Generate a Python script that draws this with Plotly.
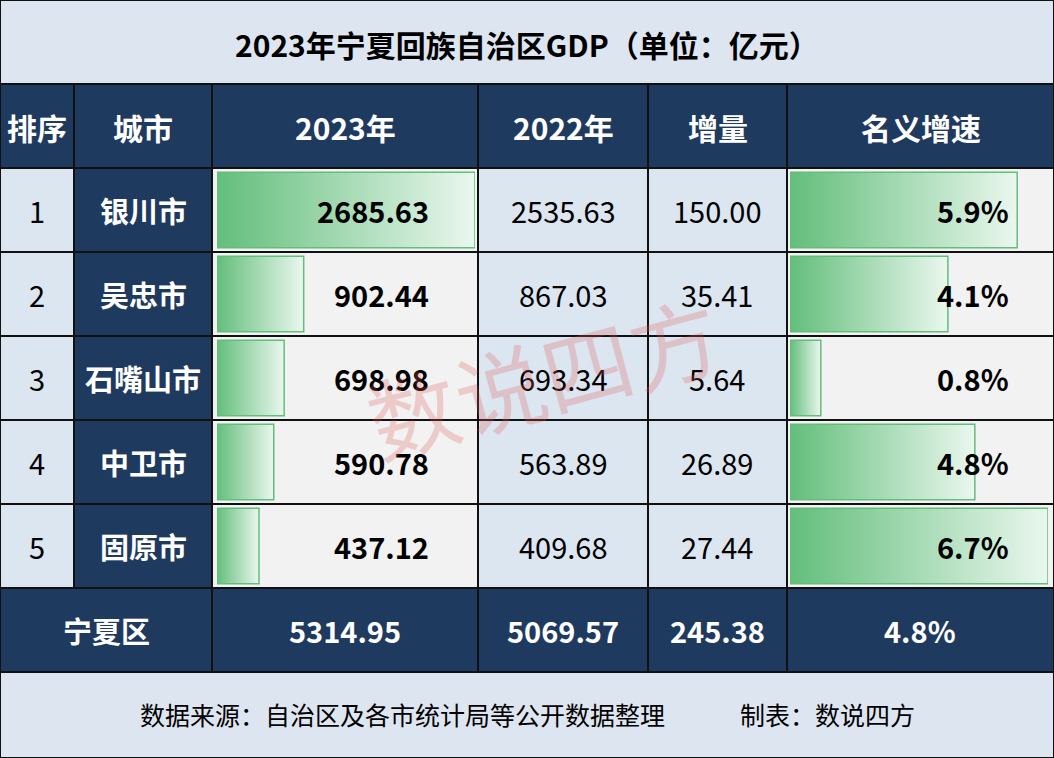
import plotly.graph_objects as go

# ---- data ----
title = "2023年宁夏回族自治区GDP（单位：亿元）"
headers = ["排序", "城市", "2023年", "2022年", "增量", "名义增速"]
ranks = ["1", "2", "3", "4", "5"]
cities = ["银川市", "吴忠市", "石嘴山市", "中卫市", "固原市"]
gdp_2023 = [2685.63, 902.44, 698.98, 590.78, 437.12]
gdp_2022 = [2535.63, 867.03, 693.34, 563.89, 409.68]
increase = [150.00, 35.41, 5.64, 26.89, 27.44]
growth = [5.9, 4.1, 0.8, 4.8, 6.7]
total_label = "宁夏区"
total_2023 = 5314.95
total_2022 = 5069.57
total_increase = 245.38
total_growth = 4.8
footer = "数据来源：自治区及各市统计局等公开数据整理　　　制表：数说四方"
watermark = "数说四方"

# ---- layout constants (pixels) ----
W, H = 1054, 758
col_x = [0, 74, 212, 478, 648, 787, 1054]
title_y = (0, 84)
head_y = (84, 168)
row_h = 84
rows_top = 168
total_y = (588, 672)
foot_y = (672, 758)

NAVY = "#1f3a5f"
LIGHT = "#dde6f0"
PALE = "#f2f2f2"
BLUE = "#dce6f1"
GREEN = "#63be7b"
FONT = "Noto Sans CJK SC"


def px(x):
    return x / W


def py(y):
    return 1 - y / H


shapes = []
annotations = []


def cell(x0, x1, y0, y1, fill):
    shapes.append(dict(type="rect", xref="paper", yref="paper",
                       x0=px(x0), x1=px(x1), y0=py(y1), y1=py(y0),
                       fillcolor=fill, line=dict(color="#111111", width=2),
                       layer="below"))


def text(s, x, y, size=29, color="black", bold=False, xanchor="center"):
    if bold:
        s = "<b>" + s + "</b>"
    annotations.append(dict(text=s, x=px(x), y=py(y), xref="paper", yref="paper",
                            xanchor=xanchor, yanchor="middle", showarrow=False,
                            font=dict(family=FONT, size=size, color=color)))


# title band
cell(0, W, title_y[0], title_y[1], LIGHT)
text(title, W / 2, 44, size=30, bold=True)

# header row
for i, h in enumerate(headers):
    cell(col_x[i], col_x[i + 1], head_y[0], head_y[1], NAVY)
    text(h, (col_x[i] + col_x[i + 1]) / 2, 127, size=30, color="white", bold=True)

# body rows
col_fill = [BLUE, NAVY, PALE, BLUE, BLUE, PALE]
for r in range(len(cities)):
    y0 = rows_top + r * row_h
    y1 = y0 + row_h
    ym = (y0 + y1) / 2
    for i in range(6):
        cell(col_x[i], col_x[i + 1], y0, y1, col_fill[i])
    text(ranks[r], 37, ym)
    text(cities[r], 143, ym, color="white", bold=True)
    text(f"{gdp_2023[r]:.2f}", 431, ym, bold=True, xanchor="right")
    text(f"{gdp_2022[r]:.2f}", 563, ym)
    text(f"{increase[r]:.2f}", 717, ym)
    text(f"{growth[r]:.1f}%", 1011, ym, bold=True, xanchor="right")

# total row
cell(col_x[0], col_x[2], total_y[0], total_y[1], NAVY)
for i in range(2, 6):
    cell(col_x[i], col_x[i + 1], total_y[0], total_y[1], NAVY)
tm = (total_y[0] + total_y[1]) / 2
text(total_label, 106, tm, color="white", bold=True)
text(f"{total_2023:.2f}", 345, tm, color="white", bold=True)
text(f"{total_2022:.2f}", 563, tm, color="white", bold=True)
text(f"{total_increase:.2f}", 717, tm, color="white", bold=True)
text(f"{total_growth:.1f}%", 920, tm, color="white", bold=True)

# footer
cell(0, W, foot_y[0], foot_y[1], LIGHT)
text(footer, W / 2, 714, size=25)

# watermark
annotations.append(dict(text=watermark, x=px(543), y=py(375), xref="paper", yref="paper",
                        showarrow=False, textangle=-15,
                        font=dict(family=FONT, size=90, color="rgba(225,90,90,0.26)")))

# ---- data bars (gradient, Excel style) ----
fig = go.Figure()


def add_bars(values, xaxis):
    for r, v in enumerate(values):
        fig.add_trace(go.Scatter(
            x=[0, v, v, 0, 0],
            y=[r - 0.45, r - 0.45, r + 0.45, r + 0.45, r - 0.45],
            mode="lines", fill="toself",
            line=dict(color=GREEN, width=1.5),
            fillgradient=dict(type="horizontal",
                              colorscale=[[0, "#63be7b"], [1, "#eaf7ee"]]),
            xaxis=xaxis, yaxis="y", hoverinfo="skip", showlegend=False))


add_bars(gdp_2023, "x")
add_bars(growth, "x2")

ydom = [py(rows_top + 5 * row_h), py(rows_top)]
hidden = dict(visible=False, fixedrange=True)
fig.update_layout(
    width=W, height=H,
    margin=dict(l=0, r=0, t=0, b=0),
    paper_bgcolor=LIGHT,
    plot_bgcolor="rgba(0,0,0,0)",
    xaxis=dict(domain=[px(217), px(475)], range=[0, max(gdp_2023)], **hidden),
    xaxis2=dict(domain=[px(790), px(1048)], range=[0, max(growth)], **hidden),
    yaxis=dict(domain=ydom, range=[len(cities) - 0.5, -0.5], **hidden),
    shapes=shapes,
    annotations=annotations,
    showlegend=False,
)

fig.write_html("out.html", config={"displayModeBar": False},
               post_script="document.body.style.margin='0';")
